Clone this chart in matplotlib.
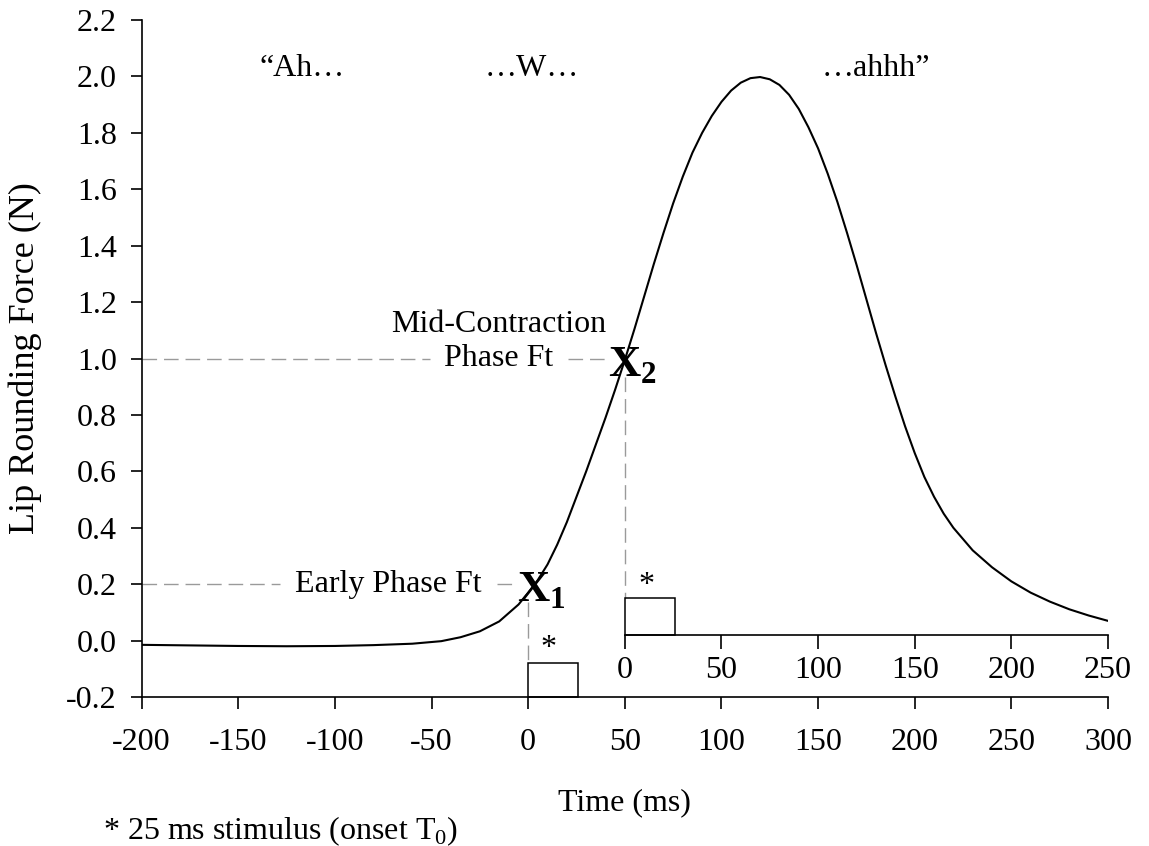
import matplotlib
matplotlib.use("Agg")
import matplotlib.pyplot as plt
from matplotlib.patches import Rectangle

plt.rcParams["font.family"] = ["Liberation Serif", "DejaVu Serif"]
plt.rcParams["mathtext.fontset"] = "custom"
plt.rcParams["mathtext.rm"] = "Liberation Serif"
plt.rcParams["mathtext.bf"] = "Liberation Serif:bold"
plt.rcParams["axes.unicode_minus"] = False

# lip rounding force trace
time_ms = [-200, -175, -150, -125, -100, -80, -60, -45, -35, -25, -15, -5, 0, 5,
           10, 15, 20, 25, 30, 35, 40, 45, 50, 55, 60, 65, 70, 75, 80, 85, 90,
           95, 100, 105, 110, 115, 120, 125, 130, 135, 140, 145, 150, 155, 160,
           165, 170, 175, 180, 185, 190, 195, 200, 205, 210, 215, 220, 230, 240,
           250, 260, 270, 280, 290, 300]
force_n = [-0.015, -0.017, -0.019, -0.020, -0.019, -0.016, -0.011, -0.002,
           0.012, 0.033, 0.068, 0.128, 0.17, 0.215, 0.27, 0.34, 0.42, 0.51,
           0.60, 0.695, 0.79, 0.89, 0.995, 1.105, 1.22, 1.335, 1.445, 1.55,
           1.645, 1.73, 1.80, 1.86, 1.91, 1.95, 1.978, 1.994, 1.998, 1.99, 1.97,
           1.935, 1.885, 1.82, 1.745, 1.655, 1.555, 1.445, 1.33, 1.21, 1.09,
           0.975, 0.865, 0.76, 0.665, 0.58, 0.51, 0.45, 0.40, 0.32, 0.26, 0.21,
           0.17, 0.138, 0.111, 0.089, 0.07]

x_ticks = [-200, -150, -100, -50, 0, 50, 100, 150, 200, 250, 300]
y_ticks = [-0.2, 0.0, 0.2, 0.4, 0.6, 0.8, 1.0, 1.2, 1.4, 1.6, 1.8, 2.0, 2.2]
stim_ticks = [0, 50, 100, 150, 200, 250]

# measurement points and stimulus
early_t, early_ft = 0, 0.2
mid_t, mid_ft = 50, 1.0
stim_len = 26

phonemes = ["\u201cAh\u2026", "\u2026W\u2026", "\u2026ahhh\u201d"]
phoneme_t = [-117, 2, 180]

FS = 23
DASH = dict(color="#9a9a9a", lw=1.0, linestyle=(0, (10.5, 5)))

fig = plt.figure(figsize=(11.49, 8.46), dpi=100)
ax = fig.add_axes([0.1233, 0.1761, 0.8410, 0.8002])

ax.plot(time_ms, force_n, color="black", lw=1.5, zorder=3)

ax.set_xlim(-200, 300)
ax.set_ylim(-0.2, 2.2)
ax.set_xticks(x_ticks)
ax.set_yticks(y_ticks)
ax.set_yticklabels([f"{v:.1f}" for v in y_ticks])
for s in ["top", "right"]:
    ax.spines[s].set_visible(False)
for s in ["left", "bottom"]:
    ax.spines[s].set_linewidth(1.2)
ax.tick_params(axis="x", length=8.5, width=1.2, pad=14, labelsize=FS)
ax.tick_params(axis="y", length=8, width=1.2, pad=10, labelsize=FS)

ax.set_xlabel("Time (ms)", fontsize=FS)
ax.xaxis.set_label_coords(0.5, -0.134)
ax.set_ylabel("Lip Rounding Force (N)", fontsize=FS + 3)
ax.yaxis.set_label_coords(-0.103, 0.5)

# phonetic cues along the top
for label, t in zip(phonemes, phoneme_t):
    ax.text(t, 2.0, label, fontsize=FS, ha="center", va="baseline")

# early phase reference
ax.plot([-200, -128.5], [early_ft, early_ft], **DASH)
ax.plot([-16.4, -7.9], [early_ft, early_ft], **DASH)
ax.plot([early_t, early_t], [0.138, -0.08], **DASH)
ax.text(-24.1, early_ft, "Early Phase Ft", fontsize=FS, ha="right", va="center")
ax.text(early_t - 6, 0.138, r"$\mathbf{X}_{\mathbf{1}}$", fontsize=32,
        ha="left", va="baseline", zorder=4)

# mid-contraction reference
ax.plot([-200, -50.9], [mid_ft, mid_ft], **DASH)
ax.plot([20.5, 41.2], [mid_ft, mid_ft], **DASH)
ax.plot([mid_t, mid_t], [0.936, 0.151], **DASH)
ax.text(-15.4, 1.12, "Mid-Contraction", fontsize=FS, ha="center", va="center")
ax.text(-15.4, mid_ft, "Phase Ft", fontsize=FS, ha="center", va="center")
ax.text(mid_t - 8.8, 0.935, r"$\mathbf{X}_{\mathbf{2}}$", fontsize=32,
        ha="left", va="baseline", zorder=4)

# stimulus on the main time axis
ax.add_patch(Rectangle((early_t, -0.2), stim_len, 0.12, fill=False,
                       edgecolor="black", lw=1.1, clip_on=False))
ax.text(early_t + 10.7, -0.055, "*", fontsize=FS, ha="center", va="baseline")

# secondary time axis, zero at the mid-contraction point
ax2 = ax.inset_axes([mid_t, 0.0188, 250, 0.4], transform=ax.transData)
ax2.patch.set_visible(False)
ax2.set_xlim(0, 250)
ax2.set_ylim(0, 0.4)
for s in ["top", "right", "left"]:
    ax2.spines[s].set_visible(False)
ax2.spines["bottom"].set_linewidth(1.2)
ax2.set_xticks(stim_ticks)
ax2.set_yticks([])
ax2.tick_params(axis="x", length=10, width=1.2, pad=5, labelsize=FS)
ax2.add_patch(Rectangle((0, 0), stim_len, 0.132, fill=False,
                        edgecolor="black", lw=1.1, clip_on=False))
ax2.text(11.3, 0.15, "*", fontsize=FS, ha="center", va="baseline")

fig.text(103 / 1149, 1 - 831 / 846, "* 25 ms stimulus (onset T$_0$)",
         fontsize=FS, ha="left", va="center")

fig.savefig("out.png", dpi=100)
